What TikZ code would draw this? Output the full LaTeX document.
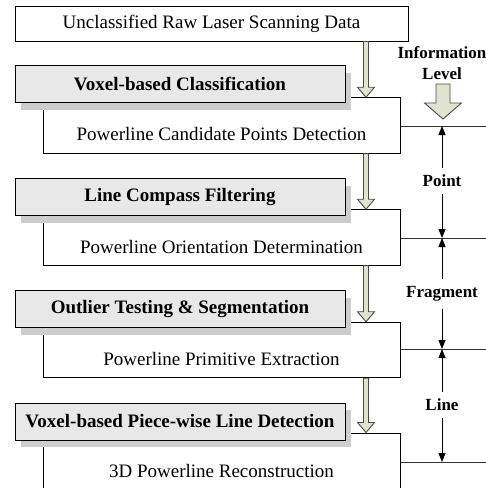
\documentclass[tikz,border=0pt]{standalone}
\usepackage{fontspec}
\setmainfont{Liberation Serif}
\usetikzlibrary{shadows,arrows.meta,calc}

\definecolor{boxgray}{HTML}{E8E8E8}
\definecolor{shadowgray}{HTML}{CDCDCD}
\definecolor{arrowfill}{HTML}{E0E4CE}
\definecolor{arrowline}{HTML}{4A4A4A}

\newcommand{\regtext}{\fontsize{19}{22}\selectfont}
\newcommand{\boldtext}{\fontsize{19}{22}\selectfont\bfseries}
\newcommand{\lbltext}{\fontsize{17}{21}\selectfont\bfseries}

% hollow block arrow pointing down: #1 start, #2 tip, #3 half shaft, #4 half head, #5 head length
\newcommand{\downblock}[5]{%
  \filldraw[blockarrow] let \p1=(#1), \p2=(#2) in
    (\x1-#3,\y1) -- (\x1-#3,\y2+#5) -- (\x1-#4,\y2+#5) -- (\x1,\y2)
    -- (\x1+#4,\y2+#5) -- (\x1+#3,\y2+#5) -- (\x1+#3,\y1) -- cycle;}

\begin{document}
\begin{tikzpicture}[x=1pt,y=-1pt,
  stepbox/.style={draw=black, line width=1pt, fill=white, inner sep=0pt},
  methodbox/.style={draw=black, line width=1pt, fill=boxgray, inner sep=0pt,
    minimum width=330pt, minimum height=37pt, font=\boldtext,
    drop shadow={shadow xshift=6pt, shadow yshift=-7pt, fill=shadowgray, draw=none, opacity=1}},
  whitebox/.style={stepbox, minimum width=357pt, minimum height=55.5pt},
  steptext/.style={font=\regtext, inner sep=0pt},
  blockarrow/.style={fill=arrowfill, draw=arrowline, line width=0.9pt, line join=miter},
  levelline/.style={draw=black!80, line width=0.8pt},
  dimline/.style={draw=black, line width=0.8pt, -{Triangle[width=7pt,length=9pt]}},
  lvllabel/.style={font=\lbltext, inner sep=7pt}]

\useasboundingbox (0,0) rectangle (486,488);

% input data
\node[stepbox, minimum width=393pt, minimum height=35pt, font=\regtext] (raw) at (211.5,23.5)
  {Unclassified Raw Laser Scanning Data};

% result boxes
\node[whitebox] (w1) at (221.5,125.5) {};
\node[whitebox] (w2) at (221.5,237.5) {};
\node[whitebox] (w3) at (221.5,350) {};
\node[whitebox, minimum height=62pt] (w4) at (221.5,464) {};
\node[steptext] (t1) at (221.5,134) {Powerline Candidate Points Detection};
\node[steptext] (t2) at (221.5,247) {Powerline Orientation Determination};
\node[steptext] (t3) at (221.5,358.5) {Powerline Primitive Extraction};
\node[steptext] (t4) at (221.5,471) {3D Powerline Reconstruction};

% flow arrows between the stages
\coordinate (ax) at (366,0);
\downblock{raw.south -| ax}{w1.north -| ax}{2.5pt}{8.5pt}{10pt}
\downblock{w1.south -| ax}{w2.north -| ax}{2.5pt}{8.5pt}{10pt}
\downblock{w2.south -| ax}{w3.north -| ax}{2.5pt}{8.5pt}{10pt}
\downblock{w3.south -| ax}{w4.north -| ax}{2.5pt}{8.5pt}{10pt}

% processing methods
\node[methodbox] (g1) at (180,84) {Voxel-based Classification};
\node[methodbox] (g2) at (180,197) {Line Compass Filtering};
\node[methodbox] (g3) at (180,309) {Outlier Testing \& Segmentation};
\node[methodbox] (g4) at (180,421.5) {Voxel-based Piece-wise Line Detection};

% information level scale
\coordinate (lv1) at (486,126);
\coordinate (lv2) at (486,238);
\coordinate (lv3) at (486,349);
\coordinate (lv4) at (486,462);
\draw[levelline] (lv1 -| w1.east) -- (lv1);
\draw[levelline] (lv2 -| w2.east) -- (lv2);
\draw[levelline] (lv3 -| w3.east) -- (lv3);
\draw[levelline] (lv4 -| w4.east) -- (lv4);

\node[font=\lbltext, align=center, inner sep=0pt] (info) at (442,63) {Information\\Level};
\coordinate (infotop) at (443,84);
\coordinate (infotip) at (443,119);
\downblock{infotop}{infotip}{7pt}{18.5pt}{16pt}

\node[lvllabel] (p1) at (442,181) {Point};
\node[lvllabel] (p2) at (442,294) {Fragment};
\node[lvllabel] (p3) at (442,405) {Line};
\draw[dimline] (p1.north) -- (p1.north |- lv1);
\draw[dimline] (p1.south) -- (p1.south |- lv2);
\draw[dimline] (p2.north) -- (p2.north |- lv2);
\draw[dimline] (p2.south) -- (p2.south |- lv3);
\draw[dimline] (p3.north) -- (p3.north |- lv3);
\draw[dimline] (p3.south) -- (p3.south |- lv4);
\end{tikzpicture}
\end{document}
